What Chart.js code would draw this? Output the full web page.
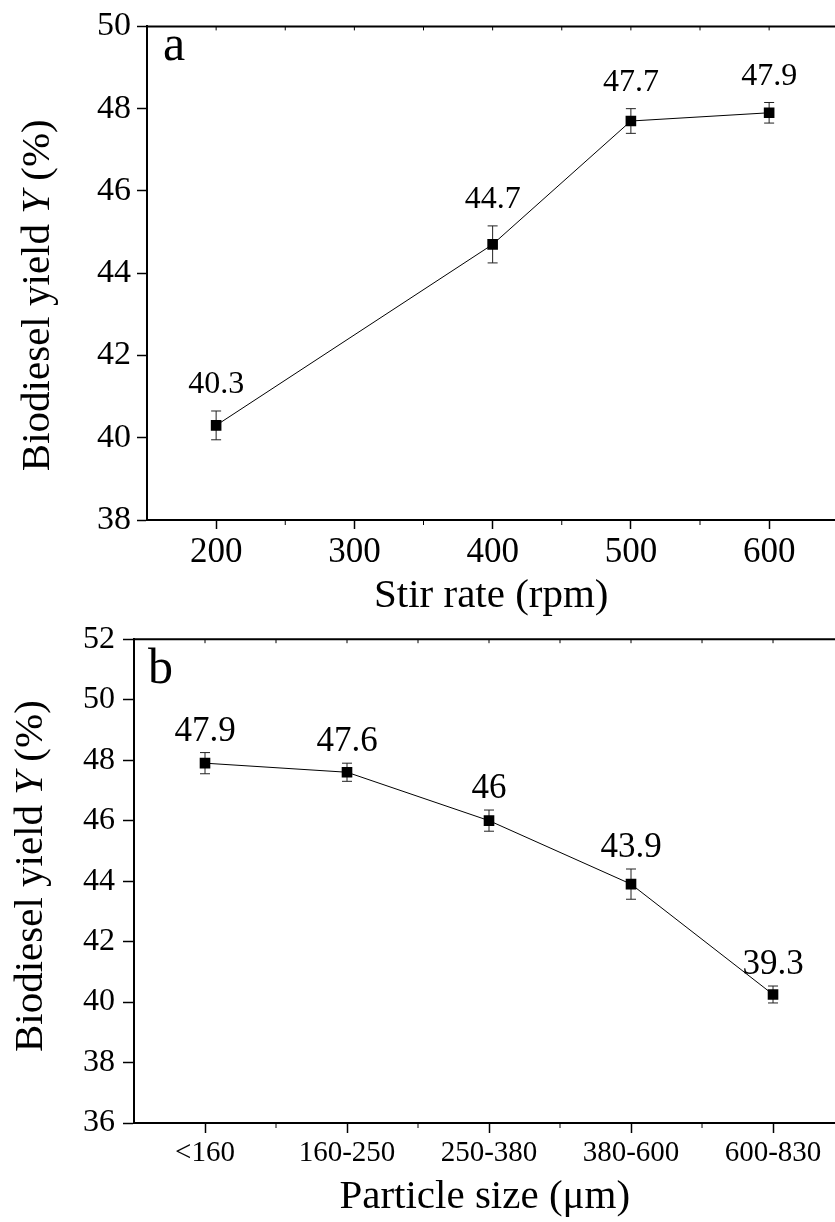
<!DOCTYPE html>
<html>
<head>
<meta charset="utf-8">
<script src="https://cdn.jsdelivr.net/npm/chart.js@4.4.1/dist/chart.umd.min.js"></script>
<style>
  html, body { margin: 0; padding: 0; background: #fff; overflow: hidden; width: 835px; height: 1222px; }
  .wrap { position: absolute; left: 0; width: 835px; overflow: hidden; }
  #wrapA { top: 0; height: 625px; }
  #wrapB { top: 612px; height: 610px; }
</style>
</head>
<body>
<div id="wrapA" class="wrap"><canvas id="chartA" width="843" height="625"></canvas></div>
<div id="wrapB" class="wrap"><canvas id="chartB" width="843" height="610"></canvas></div>
<script>
// ---- Data (panel a) ----
const stirRates = [200, 400, 500, 600];
const yieldA = [40.3, 44.7, 47.7, 47.9];
const errA = [0.35, 0.45, 0.3, 0.25];
const labelsA = ['40.3', '44.7', '47.7', '47.9'];
const xTicksA = [200, 300, 400, 500, 600];
const yTicksA = [38, 40, 42, 44, 46, 48, 50];

// ---- Data (panel b) ----
const particleSizes = ['<160', '160-250', '250-380', '380-600', '600-830'];
const yieldB = [47.9, 47.6, 46, 43.9, 40.25];   // marker positions as drawn in the figure
const errB = [0.35, 0.3, 0.35, 0.5, 0.28];
const labelsB = ['47.9', '47.6', '46', '43.9', '39.3'];
const yTicksB = [36, 38, 40, 42, 44, 46, 48, 50, 52];

const SERIF = '"Liberation Serif", "Times New Roman", serif';
Chart.defaults.font.family = SERIF;
Chart.defaults.color = '#000';

function decorPlugin(cfg) {
  return {
    id: 'decor_' + cfg.letter,
    beforeDatasetsDraw(chart) {
      const ctx = chart.ctx;
      const xs = chart.scales.x, ys = chart.scales.y;
      const ds = chart.data.datasets[0].data;
      ctx.save();
      ctx.strokeStyle = '#222';
      ctx.lineWidth = 1;
      ds.forEach((p, i) => {
        const px = xs.getPixelForValue(p.x);
        const yt = ys.getPixelForValue(p.y + cfg.err[i]);
        const yb = ys.getPixelForValue(p.y - cfg.err[i]);
        ctx.beginPath();
        ctx.moveTo(px, yt); ctx.lineTo(px, yb);
        ctx.moveTo(px - 5, yt); ctx.lineTo(px + 5, yt);
        ctx.moveTo(px - 5, yb); ctx.lineTo(px + 5, yb);
        ctx.stroke();
      });
      ctx.restore();
    },
    afterDatasetsDraw(chart) {
      const ctx = chart.ctx;
      const xs = chart.scales.x, ys = chart.scales.y;
      const area = chart.chartArea;
      const ds = chart.data.datasets[0].data;
      ctx.save();
      // value labels
      ctx.fillStyle = '#000';
      ctx.font = cfg.labelFont + 'px ' + SERIF;
      ctx.textAlign = 'center';
      ctx.textBaseline = 'middle';
      ds.forEach((p, i) => {
        const px = xs.getPixelForValue(p.x);
        const yt = ys.getPixelForValue(p.y + cfg.err[i]);
        ctx.fillText(cfg.labels[i], px, yt - cfg.labelGap);
      });
      // panel letter
      ctx.font = '50px ' + SERIF;
      ctx.textAlign = 'left';
      ctx.textBaseline = 'alphabetic';
      ctx.fillText(cfg.letter, area.left + cfg.letterDx, area.top + cfg.letterDy);
      // top frame line
      ctx.strokeStyle = '#000';
      ctx.lineWidth = 2;
      ctx.beginPath();
      ctx.moveTo(area.left, area.top);
      ctx.lineTo(area.right, area.top);
      ctx.stroke();
      // top mirrored ticks and bottom minor ticks
      ctx.lineWidth = 1;
      ctx.beginPath();
      cfg.topTicks.forEach(v => {
        const px = xs.getPixelForValue(v);
        if (px > area.left + 1 && px < area.right - 1) {
          ctx.moveTo(px, area.top); ctx.lineTo(px, area.top + 4);
        }
      });
      cfg.minorTicks.forEach(v => {
        const px = xs.getPixelForValue(v);
        if (px > area.left + 1 && px < area.right - 1) {
          ctx.moveTo(px, area.bottom); ctx.lineTo(px, area.bottom + 5);
        }
      });
      ctx.stroke();
      // y axis title with italic Y
      const parts = [
        ['Biodiesel yield ', ''],
        ['Y', 'italic '],
        [' (%)', '']
      ];
      const fs = cfg.yTitleFont;
      let total = 0;
      parts.forEach(pt => { ctx.font = pt[1] + fs + 'px ' + SERIF; total += ctx.measureText(pt[0]).width; });
      ctx.translate(cfg.yTitleX, (area.top + area.bottom) / 2 + cfg.yTitleDy);
      ctx.rotate(-Math.PI / 2);
      ctx.textBaseline = 'middle';
      let cx = -total / 2;
      parts.forEach(pt => {
        ctx.font = pt[1] + fs + 'px ' + SERIF;
        ctx.fillText(pt[0], cx, 0);
        cx += ctx.measureText(pt[0]).width;
      });
      ctx.restore();
    }
  };
}

// ---- Chart a ----
new Chart(document.getElementById('chartA'), {
  type: 'line',
  data: {
    datasets: [{
      data: stirRates.map((x, i) => ({ x: x, y: yieldA[i] })),
      borderColor: '#000',
      borderWidth: 1,
      pointStyle: 'rect',
      pointRadius: 7.5,
      pointBackgroundColor: '#000',
      pointBorderWidth: 0,
      tension: 0
    }]
  },
  options: {
    responsive: false,
    animation: false,
    layout: { padding: { left: 0, right: 0, top: 26, bottom: 0 } },
    plugins: { legend: { display: false }, tooltip: { enabled: false } },
    scales: {
      x: {
        type: 'linear', min: 150, max: 648,
        afterBuildTicks: s => { s.ticks = xTicksA.map(v => ({ value: v })); },
        afterFit: s => { s.height = 105; },
        grid: { drawOnChartArea: false, drawTicks: true, tickLength: 9, color: '#000', tickWidth: 1.5 },
        border: { display: true, color: '#000', width: 2 },
        ticks: { font: { size: 35 }, color: '#000', padding: 3, maxRotation: 0, autoSkip: false },
        title: { display: true, text: 'Stir rate (rpm)', font: { size: 41 }, color: '#000', padding: { top: 0, bottom: 4 } }
      },
      y: {
        min: 38, max: 50,
        afterBuildTicks: s => { s.ticks = yTicksA.map(v => ({ value: v })); },
        afterFit: s => { s.width = 147; },
        grid: { drawOnChartArea: false, drawTicks: true, tickLength: 10, color: '#000', tickWidth: 1.5 },
        border: { display: true, color: '#000', width: 2 },
        ticks: { font: { size: 34 }, color: '#000', padding: 6 },
        title: { display: false }
      }
    }
  },
  plugins: [decorPlugin({
    letter: 'a', err: errA, labels: labelsA, labelFont: 32, labelGap: 26,
    letterDx: 16, letterDy: 34, yTitleX: 38, yTitleDy: 22, yTitleFont: 41,
    topTicks: [200, 250, 300, 350, 400, 450, 500, 550, 600],
    minorTicks: [250, 350, 450, 550]
  })]
});

// ---- Chart b ----
new Chart(document.getElementById('chartB'), {
  type: 'line',
  data: {
    datasets: [{
      data: yieldB.map((y, i) => ({ x: i, y: y })),
      borderColor: '#000',
      borderWidth: 1,
      pointStyle: 'rect',
      pointRadius: 7.5,
      pointBackgroundColor: '#000',
      pointBorderWidth: 0,
      tension: 0
    }]
  },
  options: {
    responsive: false,
    animation: false,
    layout: { padding: { left: 0, right: 0, top: 14, bottom: 0 } },
    plugins: { legend: { display: false }, tooltip: { enabled: false } },
    scales: {
      x: {
        type: 'linear', min: -0.5, max: 4.44,
        afterBuildTicks: s => { s.ticks = particleSizes.map((_, i) => ({ value: i })); },
        afterFit: s => { s.height = 99; },
        grid: { drawOnChartArea: false, drawTicks: true, tickLength: 10, color: '#000', tickWidth: 1.5 },
        border: { display: true, color: '#000', width: 2 },
        ticks: {
          font: { size: 29 }, color: '#000', padding: 3, maxRotation: 0, autoSkip: false,
          callback: v => particleSizes[v]
        },
        title: { display: true, text: 'Particle size (μm)', font: { size: 41 }, color: '#000', padding: { top: 0, bottom: 0 } }
      },
      y: {
        min: 36, max: 52,
        afterBuildTicks: s => { s.ticks = yTicksB.map(v => ({ value: v })); },
        afterFit: s => { s.width = 134; },
        grid: { drawOnChartArea: false, drawTicks: true, tickLength: 11, color: '#000', tickWidth: 1.5 },
        border: { display: true, color: '#000', width: 2 },
        ticks: { font: { size: 32 }, color: '#000', padding: 8 },
        title: { display: false }
      }
    }
  },
  plugins: [decorPlugin({
    letter: 'b', err: errB, labels: labelsB, labelFont: 35, labelGap: 21,
    letterDx: 14, letterDy: 44, yTitleX: 31, yTitleDy: -5, yTitleFont: 41,
    topTicks: [0, 0.5, 1, 1.5, 2, 2.5, 3, 3.5, 4],
    minorTicks: [0.5, 1.5, 2.5, 3.5]
  })]
});
</script>
</body>
</html>
